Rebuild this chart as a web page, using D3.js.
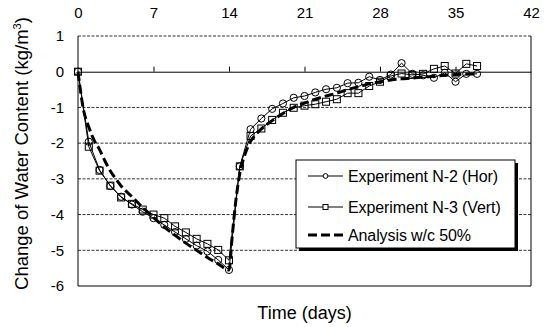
<!DOCTYPE html>
<html>
<head>
<meta charset="utf-8">
<script src="https://cdn.jsdelivr.net/npm/d3@7"></script>
<style>
  body { margin: 0; background: #fff; }
  svg { display: block; font-family: "Liberation Sans", Arial, sans-serif; }
</style>
</head>
<body>
<svg id="chart" width="548" height="327"></svg>
<script>
// measured days (both experiments)
const days = [0, 1, 2, 3, 4, 5, 6, 7, 8, 9, 10, 11, 12, 13, 14, 15, 16, 17, 18, 19,
  20, 21, 22, 23, 24, 25, 26, 27, 28, 29, 30, 31, 32, 33, 34, 35, 36, 37];

// Experiment N-2 (Hor), circles
const n2Values = [0, -1.96, -2.75, -3.2, -3.5, -3.72, -3.92, -4.1, -4.29, -4.49, -4.68, -4.87,
  -5.03, -5.27, -5.55, -2.65, -1.61, -1.31, -1.04, -0.89, -0.73, -0.68, -0.58, -0.49, -0.45,
  -0.32, -0.31, -0.14, -0.23, -0.08, 0.24, -0.06, -0.1, -0.17, -0.03, -0.28, -0.06, -0.06];

// Experiment N-3 (Vert), squares
const n3Values = [0, -2.1, -2.77, -3.19, -3.52, -3.7, -3.86, -4.0, -4.1, -4.33, -4.5, -4.68,
  -4.82, -4.99, -5.28, -2.65, -1.8, -1.59, -1.35, -1.15, -1.01, -0.95, -0.91, -0.84, -0.77,
  -0.6, -0.6, -0.4, -0.28, -0.12, -0.05, -0.09, -0.06, 0.08, 0.16, -0.05, 0.22, 0.16];

// Analysis w/c 50%
const analysisDays = [0, 0.5, 1, 1.5, 2, 2.5, 3, 3.5, 4, 5, 6, 7, 8, 9, 10, 11, 12, 13, 14,
  14.3, 14.6, 15, 15.5, 16, 16.5, 17, 18, 19, 20, 21, 22, 23, 24, 25, 26, 27, 28, 29, 30,
  31, 32, 33, 34, 35, 36, 37];
const analysisValues = [0, -1.05, -1.55, -1.92, -2.18, -2.5, -2.78, -3.0, -3.2, -3.5, -3.8,
  -4.08, -4.35, -4.58, -4.8, -5.0, -5.2, -5.38, -5.55, -4.6, -3.7, -2.85, -2.3, -1.95, -1.75,
  -1.6, -1.37, -1.17, -1.0, -0.88, -0.77, -0.68, -0.6, -0.5, -0.42, -0.34, -0.28, -0.23, -0.2,
  -0.18, -0.15, -0.13, -0.1, -0.08, -0.07, -0.06];

const xTicks = [0, 7, 14, 21, 28, 35, 42];
const yTicks = [1, 0, -1, -2, -3, -4, -5, -6];
const gridValues = [1, -1, -2, -3, -4, -5];

const legendLabels = ['Experiment N-2 (Hor)', 'Experiment N-3 (Vert)', 'Analysis w/c 50%'];

const svg = d3.select('#chart');
const plotLeft = 78, plotRight = 531, plotTop = 36, plotBottom = 286;

const x = d3.scaleLinear().domain([0, 42]).range([plotLeft, plotRight]);
const y = d3.scaleLinear().domain([-6, 1]).range([plotBottom, plotTop]);

// dashed gridlines
svg.append('g')
  .selectAll('line')
  .data(gridValues)
  .enter()
  .append('line')
  .attr('x1', plotLeft)
  .attr('x2', plotRight)
  .attr('y1', d => y(d))
  .attr('y2', d => y(d))
  .attr('stroke', '#333')
  .attr('stroke-width', 1)
  .attr('stroke-dasharray', '3,1.5');

// plot frame: left, right, bottom
svg.append('path')
  .attr('d', `M${plotLeft},${plotTop}V${plotBottom}H${plotRight}V${plotTop}`)
  .attr('fill', 'none')
  .attr('stroke', '#000')
  .attr('stroke-width', 1);

// zero line with upward ticks
const zeroAxis = svg.append('g')
  .attr('transform', `translate(0,${y(0)})`)
  .call(d3.axisTop(x).tickValues(xTicks.slice(1, -1)).tickSize(5).tickSizeOuter(0).tickFormat(''));
zeroAxis.select('.domain').attr('stroke', '#000');
zeroAxis.selectAll('.tick line').attr('stroke', '#000');

// day labels along the top
const topAxis = svg.append('g')
  .attr('transform', `translate(0,${plotTop})`)
  .call(d3.axisTop(x).tickValues(xTicks).tickSize(0).tickPadding(18));
topAxis.select('.domain').remove();
topAxis.selectAll('text')
  .attr('font-size', 15)
  .attr('font-family', '"Liberation Sans", Arial, sans-serif')
  .attr('fill', '#000');

// y labels
const yAxis = svg.append('g')
  .attr('transform', `translate(${plotLeft},0)`)
  .call(d3.axisLeft(y).tickValues(yTicks).tickSize(0).tickPadding(14)
    .tickFormat(d => String(d)));
yAxis.select('.domain').remove();
yAxis.selectAll('text')
  .attr('font-size', 15)
  .attr('font-family', '"Liberation Sans", Arial, sans-serif')
  .attr('fill', '#000');

// analysis dashed curve
const analysisLine = d3.line()
  .x((d, i) => x(analysisDays[i]))
  .y(d => y(d))
  .curve(d3.curveMonotoneX);

svg.append('path')
  .datum(analysisValues)
  .attr('d', analysisLine)
  .attr('fill', 'none')
  .attr('stroke', '#000')
  .attr('stroke-width', 3)
  .attr('stroke-dasharray', '9,4');

const expLine = d3.line()
  .x((d, i) => x(days[i]))
  .y(d => y(d));

// N-3 squares
svg.append('path')
  .datum(n3Values)
  .attr('d', expLine)
  .attr('fill', 'none')
  .attr('stroke', '#000')
  .attr('stroke-width', 1);

svg.append('g')
  .selectAll('rect')
  .data(n3Values)
  .enter()
  .append('rect')
  .attr('x', (d, i) => x(days[i]) - 3.5)
  .attr('y', d => y(d) - 3.5)
  .attr('width', 7)
  .attr('height', 7)
  .attr('fill', 'none')
  .attr('stroke', '#000')
  .attr('stroke-width', 1);

// N-2 circles
svg.append('path')
  .datum(n2Values)
  .attr('d', expLine)
  .attr('fill', 'none')
  .attr('stroke', '#000')
  .attr('stroke-width', 1);

svg.append('g')
  .selectAll('circle')
  .data(n2Values)
  .enter()
  .append('circle')
  .attr('cx', (d, i) => x(days[i]))
  .attr('cy', d => y(d))
  .attr('r', 3.6)
  .attr('fill', 'none')
  .attr('stroke', '#000')
  .attr('stroke-width', 1);

// axis titles
svg.append('text')
  .attr('x', (plotLeft + plotRight) / 2)
  .attr('y', 319)
  .attr('text-anchor', 'middle')
  .attr('font-size', 18)
  .text('Time (days)');

const yTitle = svg.append('text')
  .attr('transform', `translate(28,${(12 + 295) / 2}) rotate(-90)`)
  .attr('text-anchor', 'middle')
  .attr('font-size', 18.5);
yTitle.append('tspan').text('Change of Water Content (kg/m');
yTitle.append('tspan').attr('font-size', 11).attr('dy', -7).text('3');
yTitle.append('tspan').attr('dy', 7).text(')');

// legend
const lg = svg.append('g').attr('transform', 'translate(296,160)');
const lgW = 219, lgH = 88;
lg.append('rect')
  .attr('x', 3).attr('y', 3)
  .attr('width', lgW).attr('height', lgH)
  .attr('fill', '#000');
lg.append('rect')
  .attr('width', lgW).attr('height', lgH)
  .attr('fill', '#fff')
  .attr('stroke', '#000')
  .attr('stroke-width', 1);

const rowY = [16, 47, 75];
legendLabels.forEach((label, i) => {
  const row = lg.append('g').attr('transform', `translate(0,${rowY[i]})`);
  const line = row.append('line')
    .attr('x1', 12).attr('x2', 47)
    .attr('stroke', '#000');
  if (i === 2) {
    line.attr('stroke-width', 3).attr('stroke-dasharray', '9,4');
  } else {
    line.attr('stroke-width', 1);
  }
  if (i === 0) {
    row.append('circle').attr('cx', 29.5).attr('r', 2.4)
      .attr('fill', '#fff').attr('stroke', '#000');
  } else if (i === 1) {
    row.append('rect').attr('x', 27).attr('y', -2.5).attr('width', 5).attr('height', 5)
      .attr('fill', '#fff').attr('stroke', '#000');
  }
  row.append('text')
    .attr('x', 52)
    .attr('dy', '0.35em')
    .attr('font-size', 16)
    .attr('letter-spacing', -0.1)
    .text(label);
});
</script>
</body>
</html>
